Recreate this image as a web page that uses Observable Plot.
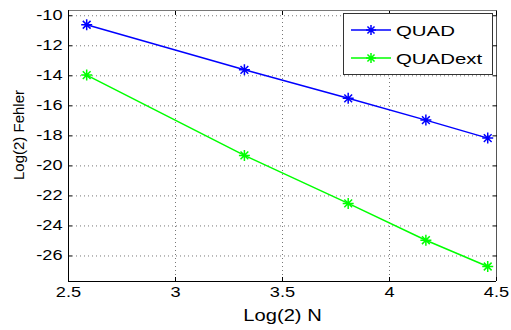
<!DOCTYPE html>
<html>
<head>
<meta charset="utf-8">
<script src="https://cdn.jsdelivr.net/npm/d3@7"></script>
<script src="https://cdn.jsdelivr.net/npm/@observablehq/plot@0.6"></script>
<style>
  html, body { margin: 0; padding: 0; background: #fff; }
  #wrap { position: relative; width: 511px; height: 330px; font-family: "Liberation Sans", Arial, sans-serif; }
  #legend { position: absolute; left: 343px; top: 13px; width: 150px; height: 62px; border: 1px solid #333; background: #fff; box-sizing: border-box; }
  #legend .row { position: absolute; left: 6px; height: 20px; display: flex; align-items: center; }
  #legend span { font-size: 15px; color: #000; margin-left: 4px; display: inline-block; transform: scaleX(1.36); transform-origin: left center; }
</style>
</head>
<body>
<div id="wrap"></div>
<script>
// Data
const series = ["QUAD", "QUADext"];
const colors = ["#0000ff", "#00ff00"];
const logN = [2.585, 3.322, 3.807, 4.170, 4.459];
const quad = [-10.6, -13.6, -15.5, -16.95, -18.15];
const quadExt = [-13.95, -19.3, -22.5, -24.95, -26.7];
const xTicks = [2.5, 3, 3.5, 4, 4.5];
const yTicks = [-10, -12, -14, -16, -18, -20, -22, -24, -26];
const xLabel = "Log(2) N";
const yLabel = "Log(2) Fehler";

const rows = [];
logN.forEach((x, i) => rows.push({s: series[0], x, y: quad[i]}));
logN.forEach((x, i) => rows.push({s: series[1], x, y: quadExt[i]}));

// MATLAB-like 8-arm asterisk
const star = {
  draw(ctx, size) {
    const r = Math.sqrt(size / Math.PI);
    const d = r * Math.SQRT1_2;
    ctx.moveTo(-r, 0); ctx.lineTo(r, 0);
    ctx.moveTo(0, -r); ctx.lineTo(0, r);
    ctx.moveTo(-d, -d); ctx.lineTo(d, d);
    ctx.moveTo(-d, d); ctx.lineTo(d, -d);
  }
};

const xDomain = [2.5, 4.5];
const yDomain = [-27.7, -9.65];
const gridStyle = {stroke: "#777", strokeOpacity: 1, strokeDasharray: "1,3", strokeWidth: 1};

const chart = Plot.plot({
  width: 511,
  height: 330,
  marginLeft: 68,
  marginRight: 15,
  marginTop: 10,
  marginBottom: 49,
  style: {fontFamily: "'Liberation Sans', Arial, sans-serif", fontSize: "14px", color: "#000", background: "#fff"},
  x: {domain: xDomain},
  y: {domain: yDomain},
  color: {domain: series, range: colors},
  marks: [
    Plot.gridX(xTicks, gridStyle),
    Plot.gridY(yTicks, gridStyle),
    Plot.ruleY([yDomain[1]], {stroke: "#777", strokeWidth: 1}),
    Plot.ruleX([xDomain[1]], {stroke: "#555", strokeWidth: 1}),
    Plot.ruleX([xDomain[0]], {stroke: "#000", strokeWidth: 1}),
    Plot.ruleY([yDomain[0]], {stroke: "#000", strokeWidth: 1}),
    Plot.axisX(xTicks, {anchor: "bottom", tickSize: -4, tickPadding: 10, fontSize: 14, tickFormat: d => String(d), label: null}),
    Plot.axisX(xTicks, {anchor: "top", tickSize: -4, tickFormat: () => "", label: null}),
    Plot.axisY(yTicks, {anchor: "left", tickSize: -4, tickPadding: 10, fontSize: 14, tickFormat: d => String(d), label: null}),
    Plot.axisY(yTicks, {anchor: "right", tickSize: -4, tickFormat: () => "", label: null}),
    Plot.text([xLabel], {frameAnchor: "bottom", textAnchor: "middle", lineAnchor: "middle", dy: 34, fontSize: 16.5, fill: "#000"}),
    Plot.text([yLabel], {frameAnchor: "left", textAnchor: "middle", lineAnchor: "middle", rotate: -90, dx: -49, dy: -11, fontSize: 15, fill: "#000"}),
    Plot.line(rows, {x: "x", y: "y", z: "s", stroke: "s", strokeWidth: 1.5}),
    Plot.dot(rows, {x: "x", y: "y", stroke: "s", fill: "none", symbol: star, r: 5.5, strokeWidth: 1.5})
  ]
});

const wrap = document.getElementById("wrap");
wrap.appendChild(chart);

// Horizontal stretch of the non-rotated texts, like the reference's wide glyphs
function stretch(nodes, k) {
  nodes.forEach(t => {
    const len = t.getComputedTextLength();
    if (len > 0) {
      t.setAttribute("textLength", (len * k).toFixed(2));
      t.setAttribute("lengthAdjust", "spacingAndGlyphs");
    }
  });
}
stretch(chart.querySelectorAll('[aria-label="x-axis tick label"] text'), 1.3);
stretch(chart.querySelectorAll('[aria-label="y-axis tick label"] text'), 1.3);
stretch([...chart.querySelectorAll("text")].filter(t => t.textContent === xLabel), 1.22);

// Legend overlay (inside the axes, top-right)
const legend = document.createElement("div");
legend.id = "legend";
series.forEach((name, i) => {
  const row = document.createElement("div");
  row.className = "row";
  row.style.top = (6 + i * 28) + "px";
  const svg = d3.create("svg").attr("width", 42).attr("height", 20);
  svg.append("line").attr("x1", 1).attr("x2", 41).attr("y1", 10).attr("y2", 10)
    .attr("stroke", colors[i]).attr("stroke-width", 1.5);
  svg.append("path").attr("transform", "translate(21,10)")
    .attr("d", d3.symbol(star, Math.PI * 5 * 5)())
    .attr("stroke", colors[i]).attr("fill", "none").attr("stroke-width", 1.5);
  row.appendChild(svg.node());
  const label = document.createElement("span");
  label.textContent = name;
  row.appendChild(label);
  legend.appendChild(row);
});
wrap.appendChild(legend);
</script>
</body>
</html>
